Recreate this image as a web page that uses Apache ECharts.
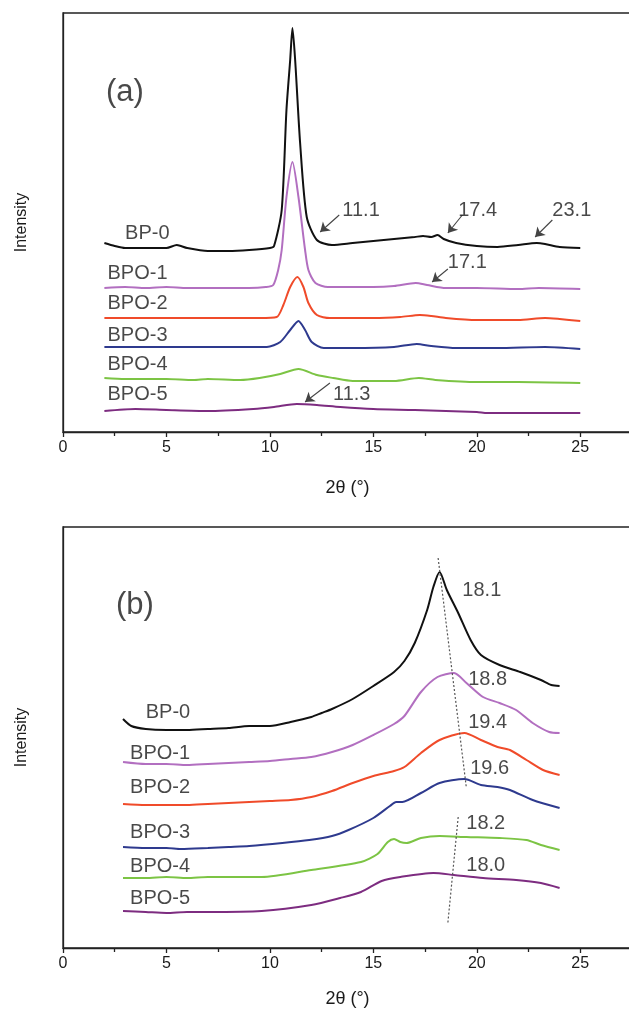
<!DOCTYPE html>
<html>
<head>
<meta charset="utf-8">
<script src="https://cdn.jsdelivr.net/npm/echarts@6/dist/echarts.min.js"></script>
<style>html,body{margin:0;padding:0;background:#fff;}#c{width:629px;height:1012px;}</style>
</head>
<body>
<div id="c"></div>
<script>
// ---------- Panel (a) data: [2θ, intensity (arb. units)] ----------
var a_BP0 = [[2.0,189],[2.5,186],[3.0,184],[4.0,184],[5.0,184],[5.5,187],[6.0,184],[7.0,181],[8.0,181],[9.0,182],[10.0,184],[10.2,186],[10.57,222],[10.8,322],[10.98,372],[11.09,404],[11.22,372],[11.46,289],[11.78,215],[12.27,192],[13.0,187],[14.0,189],[15.0,191],[16.0,193],[17.0,195],[17.4,196],[17.8,195],[18.1,197],[18.4,193],[19.0,189],[20.0,186],[21.0,185],[22.0,187],[22.9,189],[23.3,188],[24.0,185],[25.0,184]];
var a_BPO1 = [[2.0,144],[3.0,145],[4.0,144],[5.0,145],[6.0,144],[7.0,144],[8.0,144],[9.0,144],[9.8,145],[10.16,147],[10.4,162],[10.57,182],[10.8,235],[11.09,270],[11.38,235],[11.7,182],[11.86,162],[12.2,149],[12.8,145],[14.0,145],[15.0,145],[16.0,146],[17.05,149],[17.6,147],[18.5,144],[20.0,144],[22.0,143],[23.0,144],[25.0,143]];
var a_BPO2 = [[2.0,114],[3.0,114],[4.0,114],[5.0,114],[6.0,114],[7.0,114],[8.0,114],[9.5,114],[10.33,115],[10.65,127],[10.98,145],[11.33,155],[11.62,145],[11.86,129],[12.27,117],[12.9,114],[14.0,114],[15.0,114],[16.3,115],[17.25,117],[17.8,116],[18.5,114],[20.0,112],[22.0,112],[23.3,114],[24.0,113],[25.0,111]];
var a_BPO3 = [[2.0,85],[3.0,85],[4.0,85],[5.0,85],[6.0,85],[7.0,85],[8.0,85],[9.85,85],[10.5,90],[10.98,102],[11.38,111],[11.7,102],[12.02,90],[12.6,84],[14.0,84],[16.0,85],[17.1,88],[17.8,86],[19.0,84],[21.0,84],[23.3,85],[25.0,83]];
var a_BPO4 = [[2.0,54],[3.0,53],[4.0,53],[5.0,53],[6.3,52],[7.0,53],[8.56,52],[9.5,54],[10.5,58],[11.38,63],[12.27,57],[13.06,54],[14.0,51],[16.0,51],[17.2,54],[18.0,52],[20.0,50],[22.0,50],[25.0,49]];
var a_BPO5 = [[2.0,21],[3.5,23],[5.0,22],[7.0,21],[9.2,23],[10.2,25],[11.3,28],[12.27,27],[13.4,25],[15.0,23],[17.0,22],[20.0,20],[20.5,19],[22.0,19],[25.0,19]];

// ---------- Panel (b) data ----------
var b_BP0 = [[2.9,229],[3.3,222],[4.0,219],[5.0,218],[6.0,218],[7.0,219],[8.0,220],[9.0,222],[10.0,222],[11.0,226],[12.0,231],[12.5,235],[13.0,239],[14.0,249],[15.0,262],[16.0,276],[16.5,287],[17.0,305],[17.6,338],[17.9,361],[18.2,376],[18.55,358],[19.1,335],[19.7,308],[20.2,293],[21.1,283],[22.1,276],[23.1,268],[23.6,263],[24.0,262]];
var b_BPO1 = [[2.9,186],[4.0,184],[5.0,184],[6.0,183],[7.0,184],[8.0,185],[9.0,186],[10.0,187],[11.0,189],[12.0,191],[13.0,196],[14.0,203],[15.0,213],[16.0,224],[16.5,232],[17.3,256],[18.1,271],[18.9,275],[19.5,265],[20.3,251],[21.1,245],[21.9,238],[22.7,225],[23.5,216],[24.0,215]];
var b_BPO2 = [[2.9,144],[4.0,143],[5.0,143],[6.0,143],[7.0,144],[8.0,145],[9.0,146],[10.0,147],[11.0,148],[12.0,151],[13.0,157],[14.0,165],[15.0,172],[16.0,177],[16.5,181],[17.3,195],[18.2,208],[19.4,215],[20.2,208],[21.0,201],[21.6,198],[22.4,188],[23.2,178],[24.0,173]];
var b_BPO3 = [[2.9,101],[4.0,100],[5.0,100],[5.7,99],[7.0,100],[8.0,101],[9.0,102],[10.6,105],[11.9,108],[13.0,112],[13.8,118],[15.0,130],[15.8,142],[16.1,146],[16.4,146],[17.3,155],[18.2,165],[19.4,169],[20.2,163],[21.0,161],[21.6,158],[22.7,148],[24.0,140]];
var b_BPO4 = [[2.9,70],[4.0,70],[5.0,71],[6.0,70],[7.0,71],[9.6,71],[12.0,78],[14.4,86],[15.2,94],[15.7,106],[16.0,109],[16.3,106],[16.6,105],[17.3,110],[18.2,112],[19.5,111],[21.1,110],[22.4,108],[23.1,103],[24.0,98]];
var b_BPO5 = [[2.9,37],[4.0,36],[5.0,35],[6.0,36],[7.0,36],[9.6,37],[12.0,43],[13.4,50],[14.4,56],[15.4,67],[16.3,71],[17.9,75],[18.9,73],[20.3,70],[21.9,68],[23.1,65],[24.0,60]];

// sample names and colours
var sampleNames = ['BP-0','BPO-1','BPO-2','BPO-3','BPO-4','BPO-5'];
var sampleColors = ['#111111','#b26fc0','#f04b2a','#2e3a8e','#7cc444','#7d2c80'];

// text annotations (data coordinates)
var a_textPos = [[2.08,340],[3.0,199],[2.15,159],[2.15,129],[2.15,97],[2.15,68],[2.15,38]];
var a_textStr = ['(a)','BP-0','BPO-1','BPO-2','BPO-3','BPO-4','BPO-5'];
var a_peakPos = [[13.5,222],[19.1,222],[23.65,222],[18.6,170],[13.05,38]];
var a_peakStr = ['11.1','17.4','23.1','17.1','11.3'];
var a_arrows = [[[13.35,217],[12.43,200]],[[19.3,217],[18.6,199]],[[23.65,212],[22.82,195]],[[18.6,163],[17.84,150]],[[12.9,49],[11.7,30]]];

var b_textPos = [[2.56,343],[4.0,236],[3.24,195],[3.24,161],[3.24,116],[3.24,82],[3.24,50]];
var b_textStr = ['(b)','BP-0','BPO-1','BPO-2','BPO-3','BPO-4','BPO-5'];
var b_peakPos = [[19.3,358],[19.58,269],[19.58,226],[19.68,180],[19.49,125],[19.49,83]];
var b_peakStr = ['18.1','18.8','19.4','19.6','18.2','18.0'];
var b_dotted1 = [[18.13,390],[19.49,161]];
var b_dotted2 = [[19.1,131],[18.6,25]];

var xTicks = {min:0, max:27.5, interval:5};

var FONT = 'Liberation Sans, Arial, sans-serif';
var TXT = '#1a1a1a';

function xAxisCfg(gridIndex, nameGap){
  return {
    type:'value', gridIndex:gridIndex, min:xTicks.min, max:xTicks.max, interval:xTicks.interval,
    name:'2θ (°)', nameLocation:'middle', nameGap:nameGap,
    nameTextStyle:{fontSize:18, color:TXT, fontFamily:FONT},
    axisLine:{show:true, lineStyle:{color:'#222', width:1.3}},
    axisTick:{show:true, inside:false, length:5, lineStyle:{color:'#222', width:1.3}},
    minorTick:{show:true, splitNumber:2, length:4, lineStyle:{color:'#222', width:1.3}},
    axisLabel:{fontSize:16, color:TXT, fontFamily:FONT, margin:8,
      formatter:function(v){ return v % 5 === 0 ? String(v) : ''; }},
    splitLine:{show:false}
  };
}
function yAxisCfg(gridIndex, max){
  return {
    type:'value', gridIndex:gridIndex, min:0, max:max,
    name:'Intensity', nameLocation:'middle', nameGap:33, nameRotate:90,
    nameTextStyle:{fontSize:16, color:TXT, fontFamily:FONT},
    axisLine:{show:true, lineStyle:{color:'#222', width:1.3}},
    axisTick:{show:false}, axisLabel:{show:false}, splitLine:{show:false}
  };
}
function curve(data, color, xi){
  return {type:'line', xAxisIndex:xi, yAxisIndex:xi, data:data, symbol:'none', smooth:0.25,
    lineStyle:{color:color, width:2}, silent:true, animation:false, z:3};
}
function textSeries(pos, strs, xi, bigFirst){
  return {type:'scatter', xAxisIndex:xi, yAxisIndex:xi, symbolSize:0, silent:true, animation:false, z:5,
    data: pos.map(function(p,i){ return {value:p, name:strs[i],
      label:{fontSize:(bigFirst && i===0) ? 31 : 20}}; }),
    label:{show:true, position:'inside', align:'left', verticalAlign:'middle', formatter:'{b}',
      color:TXT, fontFamily:FONT, fontSize:20}
  };
}
function peakSeries(pos, strs, xi, arrows){
  var s = textSeries(pos, strs, xi, false);
  if (arrows){
    s.markLine = {silent:true, animation:false, symbol:['none','arrow'], symbolSize:9,
      itemStyle:{color:'#222'},
      lineStyle:{color:'#444', width:1.1, type:'solid'}, label:{show:false},
      emphasis:{disabled:true},
      data: arrows.map(function(a){ return [{coord:a[0]},{coord:a[1]}]; })};
  }
  return s;
}
function dotted(data){
  return {type:'line', xAxisIndex:1, yAxisIndex:1, data:data, symbol:'none',
    lineStyle:{color:'#555', width:1.2, type:[2,2]}, silent:true, animation:false, z:4};
}

var aData = [a_BP0,a_BPO1,a_BPO2,a_BPO3,a_BPO4,a_BPO5];
var bData = [b_BP0,b_BPO1,b_BPO2,b_BPO3,b_BPO4,b_BPO5];
var series = [];
aData.forEach(function(d,i){ series.push(curve(d, sampleColors[i], 0)); });
bData.forEach(function(d,i){ series.push(curve(d, sampleColors[i], 1)); });
series.push(textSeries(a_textPos, a_textStr, 0, true));
series.push(peakSeries(a_peakPos, a_peakStr, 0, a_arrows));
series.push(textSeries(b_textPos, b_textStr, 1, true));
series.push(peakSeries(b_peakPos, b_peakStr, 1, null));
series.push(dotted(b_dotted1));
series.push(dotted(b_dotted2));

var chart = echarts.init(document.getElementById('c'), null, {renderer:'canvas'});
chart.setOption({
  backgroundColor:'#fff',
  animation:false,
  grid:[
    {left:63, top:13, width:569, height:419, show:true, borderColor:'#222', borderWidth:1.3, containLabel:false, outerBoundsMode:'none'},
    {left:63, top:527, width:569, height:421, show:true, borderColor:'#222', borderWidth:1.3, containLabel:false, outerBoundsMode:'none'}
  ],
  xAxis:[xAxisCfg(0,47), xAxisCfg(1,42)],
  yAxis:[yAxisCfg(0,419), yAxisCfg(1,421)],
  series:series
});
</script>
</body>
</html>
